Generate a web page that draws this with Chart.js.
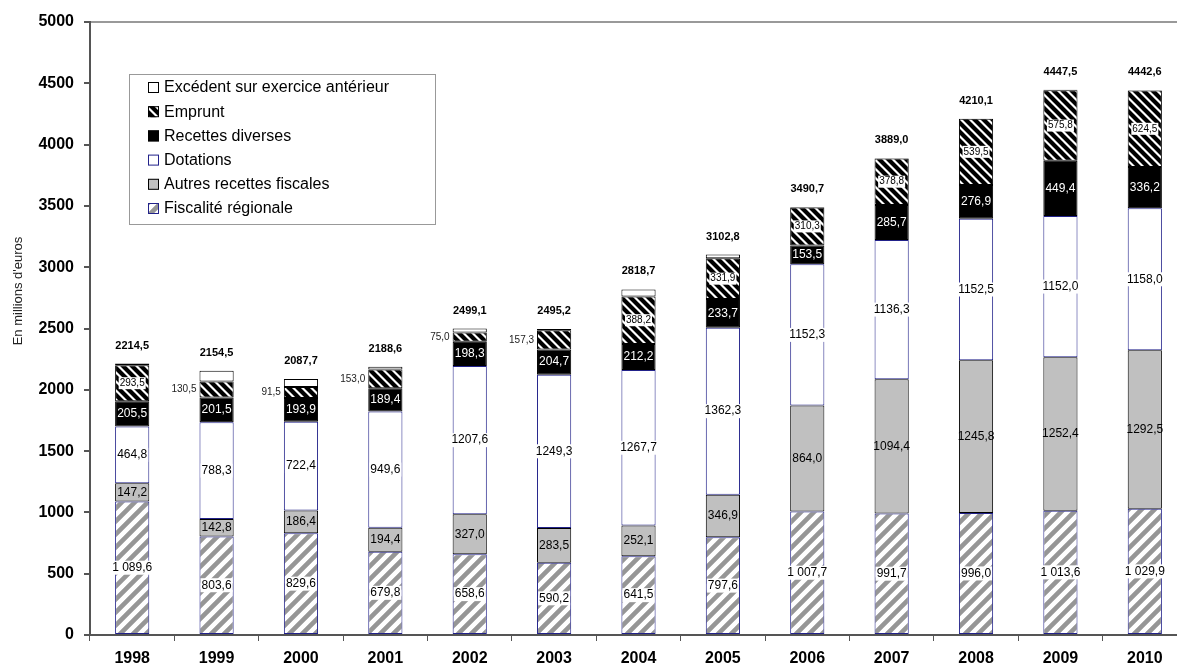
<!DOCTYPE html>
<html>
<head>
<meta charset="utf-8">
<script src="https://cdn.jsdelivr.net/npm/chart.js@4/dist/chart.umd.min.js"></script>
<style>
  html, body { margin: 0; padding: 0; background: #fff; overflow: hidden; }
</style>
</head>
<body>
<canvas id="recettesChart" width="1187" height="671"></canvas>
<script>
const years = ["1998", "1999", "2000", "2001", "2002", "2003", "2004", "2005", "2006", "2007", "2008", "2009", "2010"];
const fiscalite = [1089.6, 803.6, 829.6, 679.8, 658.6, 590.2, 641.5, 797.6, 1007.7, 991.7, 996.0, 1013.6, 1029.9];
const autresFiscales = [147.2, 142.8, 186.4, 194.4, 327.0, 283.5, 252.1, 346.9, 864.0, 1094.4, 1245.8, 1252.4, 1292.5];
const dotations = [464.8, 788.3, 722.4, 949.6, 1207.6, 1249.3, 1267.7, 1362.3, 1152.3, 1136.3, 1152.5, 1152.0, 1158.0];
const diverses = [205.5, 201.5, 193.9, 189.4, 198.3, 204.7, 212.2, 233.7, 153.5, 285.7, 276.9, 449.4, 336.2];
const emprunt = [293.5, 130.5, 91.5, 153.0, 75.0, 157.3, 388.2, 331.9, 310.3, 378.8, 539.5, 575.8, 624.5];
const excedent = [13.9, 87.8, 63.9, 22.4, 32.6, 10.2, 57.0, 30.4, 2.9, 2.1, 0, 4.3, 1.5];
const totals = [2214.5, 2154.5, 2087.7, 2188.6, 2499.1, 2495.2, 2818.7, 3102.8, 3490.7, 3889.0, 4210.1, 4447.5, 4442.6];
const yTitle = "En millions d'euros";

const ctx = document.getElementById("recettesChart").getContext("2d");

// diagonal stripe patterns (lines run past the tile so corners join up)
function stripes(size, width, color, forward) {
    const c = document.createElement("canvas");
    c.width = size; c.height = size;
    const p = c.getContext("2d");
    p.fillStyle = "#fff";
    p.fillRect(0, 0, size, size);
    p.strokeStyle = color;
    p.lineWidth = width;
    p.beginPath();
    for (let k = -2; k <= 2; k++) {
        if (forward) {
            p.moveTo(k * size - size, 2 * size);
            p.lineTo(k * size + 2 * size, -size);
        } else {
            p.moveTo(k * size - size, -size);
            p.lineTo(k * size + 2 * size, 2 * size);
        }
    }
    p.stroke();
    return ctx.createPattern(c, "repeat");
}

const fiscPattern = stripes(13, 4.6, "#969696", true);
const empruntPattern = stripes(9, 4.2, "#000", false);

function frNum(v, sep) {
    let s = v.toFixed(1).replace(".", ",");
    if (sep && v >= 1000) s = s.slice(0, s.length - 5) + " " + s.slice(s.length - 5);
    return s;
}

const labelStyles = [
    { size: 12, color: "#000", bg: true, sep: true },
    { size: 12, color: "#000", bg: false },
    { size: 12, color: "#000", bg: true },
    { size: 12, color: "#fff", bg: false },
    { size: 10, color: "#000", bg: true, outside: 200 },
    null
];

const barLabels = {
    id: "barLabels",
    afterDatasetsDraw(chart) {
        const c = chart.ctx;
        c.save();
        c.textBaseline = "middle";
        chart.data.datasets.forEach((ds, i) => {
            const st = labelStyles[i];
            if (!st) return;
            const meta = chart.getDatasetMeta(i);
            meta.data.forEach((bar, j) => {
                const v = ds.data[j];
                const txt = frNum(v, st.sep);
                const cy = (bar.y + bar.base) / 2;
                c.font = st.size + "px Arial, 'Liberation Sans'";
                if (st.outside && v < st.outside) {
                    c.textAlign = "right";
                    c.fillStyle = "#222";
                    c.fillText(txt, bar.x - bar.width / 2 - 3, cy);
                    return;
                }
                c.textAlign = "center";
                if (st.bg) {
                    const w = c.measureText(txt).width + 2;
                    c.fillStyle = "#fff";
                    c.fillRect(bar.x - w / 2, cy - st.size / 2 - 1, w, st.size + 2);
                }
                c.fillStyle = st.color;
                c.fillText(txt, bar.x, cy);
            });
        });
        // totals above each stack
        const top = chart.getDatasetMeta(chart.data.datasets.length - 1);
        c.font = "bold 11px Arial, 'Liberation Sans'";
        c.fillStyle = "#000";
        c.textAlign = "center";
        top.data.forEach((bar, j) => {
            c.fillText(frNum(totals[j]), bar.x, bar.y - 18);
        });
        c.restore();
    }
};

const boxLegend = {
    id: "boxLegend",
    afterDraw(chart) {
        const c = chart.ctx;
        c.save();
        // y axis title, sitting a bit above the middle like the original
        c.translate(18, 291);
        c.rotate(-Math.PI / 2);
        c.font = "13px Arial, 'Liberation Sans'";
        c.fillStyle = "#222";
        c.textAlign = "center";
        c.textBaseline = "middle";
        c.fillText(yTitle, 0, 0);
        c.restore();

        c.save();
        c.fillStyle = "#fff";
        c.fillRect(129, 74, 306, 150);
        c.strokeStyle = "#999";
        c.lineWidth = 1;
        c.strokeRect(129.5, 74.5, 306, 150);
        c.font = "16px Arial, 'Liberation Sans'";
        c.textBaseline = "middle";
        c.textAlign = "left";
        const n = chart.data.datasets.length;
        for (let r = 0; r < n; r++) {
            const ds = chart.data.datasets[n - 1 - r];
            const y = 87 + r * 24.2;
            c.fillStyle = ds.backgroundColor;
            c.fillRect(148, y - 5, 11, 11);
            c.strokeStyle = ds.borderColor;
            c.strokeRect(148.5, y - 4.5, 10, 10);
            c.fillStyle = "#000";
            c.fillText(ds.label, 164, y + 1);
        }
        c.restore();
    }
};

new Chart(ctx, {
    type: "bar",
    data: {
        labels: years,
        datasets: [
            { label: "Fiscalité régionale", data: fiscalite, backgroundColor: fiscPattern, borderColor: "#22228a" },
            { label: "Autres recettes fiscales", data: autresFiscales, backgroundColor: "#c0c0c0", borderColor: "#000" },
            { label: "Dotations", data: dotations, backgroundColor: "#fff", borderColor: "#22228a" },
            { label: "Recettes diverses", data: diverses, backgroundColor: "#000", borderColor: "#000" },
            { label: "Emprunt", data: emprunt, backgroundColor: empruntPattern, borderColor: "#000" },
            { label: "Excédent sur exercice antérieur", data: excedent, backgroundColor: "#fff", borderColor: "#000" }
        ]
    },
    options: {
        responsive: false,
        animation: false,
        events: [],
        barPercentage: 0.405,
        categoryPercentage: 1,
        borderWidth: 1,
        borderSkipped: false,
        layout: { padding: { top: 22, left: 0, right: 0, bottom: 0 } },
        scales: {
            x: {
                stacked: true,
                afterFit: s => { s.height = 36; },
                grid: { color: "transparent", tickColor: "#555", tickLength: 6, offset: true },
                border: { color: "#555", width: 2 },
                ticks: { color: "#000", font: { family: "Arial", size: 16, weight: "bold" }, padding: 8 }
            },
            y: {
                stacked: true,
                min: 0,
                max: 5000,
                afterFit: s => { s.width = 90; },
                grid: {
                    color: c => c.tick && c.tick.value === 5000 ? "#999" : "transparent",
                    lineWidth: 2,
                    tickColor: "#555",
                    tickLength: 6
                },
                border: { color: "#555", width: 2 },
                ticks: {
                    stepSize: 500,
                    color: "#000",
                    font: { family: "Arial", size: 16, weight: "bold" },
                    padding: 10,
                    callback: v => String(v)
                }
            }
        },
        plugins: {
            legend: { display: false },
            tooltip: { enabled: false }
        }
    },
    plugins: [barLabels, boxLegend]
});
</script>
</body>
</html>
